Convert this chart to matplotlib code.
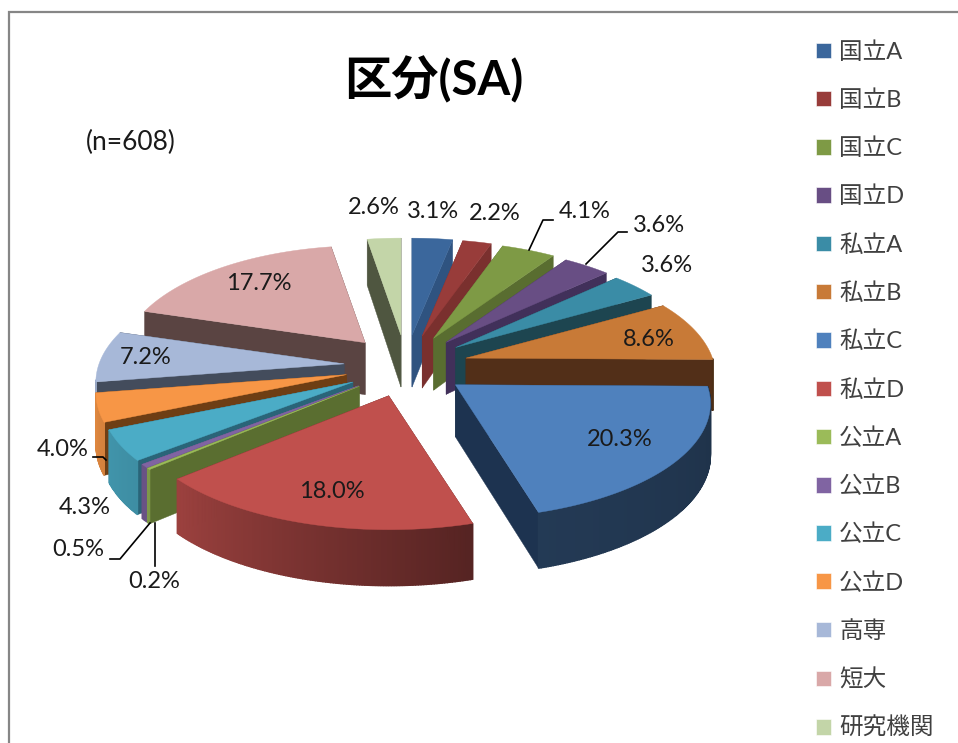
"""区分(SA): exploded 3D pie, projected by hand since matplotlib has no such pie."""
import matplotlib
matplotlib.use("Agg")
import matplotlib.pyplot as plt
import numpy as np
from matplotlib.patches import Patch, Polygon

plt.rcParams["font.family"] = ["Lato", "Noto Sans CJK JP", "DejaVu Sans"]

CATEGORIES = ["国立A", "国立B", "国立C", "国立D", "私立A", "私立B", "私立C", "私立D",
              "公立A", "公立B", "公立C", "公立D", "高専", "短大", "研究機関"]
VALUES = [3.1, 2.2, 4.1, 3.6, 3.6, 8.6, 20.3, 18.0, 0.2, 0.5, 4.3, 4.0, 7.2, 17.7, 2.6]

TOP_COLORS = ["#3b679c", "#983c3a", "#7e9a45", "#684e84", "#3a8ca6", "#c87a37", "#4f81bd", "#c0504d",
              "#9bbb59", "#8064a2", "#4bacc6", "#f79646", "#a7b8d8", "#d9a8a8", "#c3d5a8"]
WALL_COLORS = ["#2f5380", "#7a302e", "#596d30", "#41305a", "#1d4550", "#522f18", "#1d3350", "#5d2422",
               "#5a6e30", "#6b5488", "#2a6478", "#6e3e14", "#434c5c", "#5a4442", "#4f5640"]

# label centres in pixels, same order as VALUES
LABEL_X = [433, 495, 585, 659, 667, 649, 620, 332, 154, 78, 85, 63, 146, 259, 374]
LABEL_Y = [211, 213, 211, 225, 265, 339, 440, 492, 582, 550, 508, 449, 358, 283, 208]

LEADERS = [
    ([529, 543, 553], [250, 220, 220]),
    ([586, 618, 627], [264, 232, 232]),
    ([93, 103, 106], [457, 457, 460]),
    ([110, 120, 150], [559, 559, 523]),
    ([155, 155], [523, 566]),
]

# projection constants
CX, CY = 406, 366
EX, EY = 62, 31
RX, RY, PERSP = 248, 112.5, 0.16
EXPLODE = 0.15  # explosion relative to the radius, feeds the x perspective
LEFT_SQUEEZE = 0.99
DEPTH = 51


def project(tip, t, m):
    u, v = np.sin(t), np.cos(t)
    wx = 1 + PERSP * (v + EXPLODE * np.cos(m))
    wy = 1 + PERSP * v
    rx = RX if u >= 0 else RX * LEFT_SQUEEZE
    return tip[0] + rx * u / wx, tip[1] - RY * v / wy


def depth_at(t):
    return DEPTH - 5 * np.cos(t)


def rim_shade(t):
    # light comes from the left: the rim darkens going round to the right
    return np.interp(np.degrees(t), [90, 165, 230, 270], [0.38, 0.45, 0.82, 0.92])


fig = plt.figure(figsize=(9.58, 7.43), dpi=100, facecolor="white")
ax = fig.add_axes([0, 0, 1, 1])
ax.set_xlim(0, 958)
ax.set_ylim(743, 0)
ax.axis("off")

ax.plot([9, 9, 958], [743, 12, 12], color="#868686", lw=1.6, solid_joinstyle="miter")

edges = np.radians(np.cumsum([0] + VALUES) / sum(VALUES) * 360)
mids = (edges[:-1] + edges[1:]) / 2
order = np.argsort(-np.cos(mids))

z = 2
for i in order:
    t0, t1 = edges[i], edges[i + 1]
    m = mids[i]
    tip = (CX + EX * np.sin(m), CY - EY * np.cos(m))
    ts = np.linspace(t0, t1, max(3, int(np.degrees(t1 - t0) * 2)))
    arc = np.array([project(tip, t, m) for t in ts])

    # walls: the one facing away goes first
    walls = [t0, t1] if np.sin(m) > 0 else [t1, t0]
    for t in walls:
        x, y = project(tip, t, m)
        d = depth_at(t)
        ax.add_patch(Polygon([tip, (x, y), (x, y + d), (tip[0], tip[1] + 52)], closed=True,
                             fc=WALL_COLORS[i], ec=WALL_COLORS[i], lw=0.3, zorder=z))
        z += 1

    # outer rim, one small shaded strip per step, only where it faces the viewer
    base = np.array(matplotlib.colors.to_rgb(TOP_COLORS[i]))
    for k in range(len(ts) - 1):
        tm = (ts[k] + ts[k + 1]) / 2
        if np.degrees(tm) < 90 or np.degrees(tm) > 262:
            continue
        d0, d1 = depth_at(ts[k]), depth_at(ts[k + 1])
        col = base * rim_shade(tm)
        ax.add_patch(Polygon([arc[k], arc[k + 1], arc[k + 1] + [0, d1], arc[k] + [0, d0]], closed=True,
                             fc=col, ec=col, lw=1.0, zorder=z))
        z += 1

    ax.add_patch(Polygon(np.vstack([[tip], arc]), closed=True, fc=TOP_COLORS[i], ec=TOP_COLORS[i],
                         lw=0.3, zorder=z))
    z += 1

for xs, ys in LEADERS:
    ax.plot(xs, ys, color="black", lw=1.2, zorder=z)

for v, x, y in zip(VALUES, LABEL_X, LABEL_Y):
    ax.text(x, y, f"{v:.1f}%", ha="center", va="center", fontsize=17, color="#1a1a1a", zorder=z + 1)

ax.text(434, 80, "区分(SA)", ha="center", va="center", fontsize=34, fontweight="bold", color="black")
ax.text(131, 142, "(n=608)", ha="center", va="center", fontsize=19, color="#1a1a1a")

handles = [Patch(fc=c, ec="#ffffff", lw=0.4) for c in TOP_COLORS]
ax.legend(handles, CATEGORIES, loc="upper left", bbox_to_anchor=(816 / 958, 1 - 41 / 743),
          frameon=False, fontsize=17, labelcolor="#404040", handlelength=0.635, handleheight=0.635,
          handletextpad=0.34, labelspacing=1.125, borderpad=0, borderaxespad=0)

fig.savefig("out.png", dpi=100)
